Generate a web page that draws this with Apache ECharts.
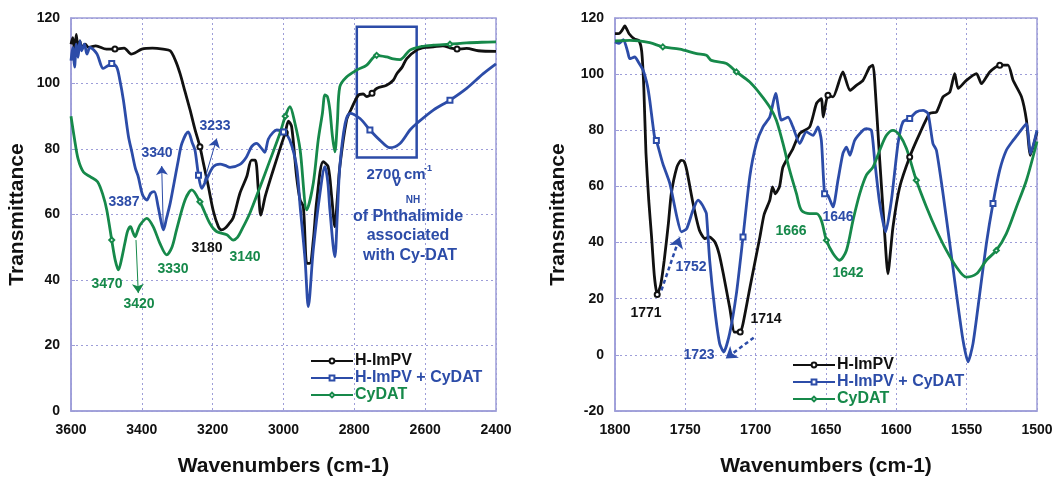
<!DOCTYPE html>
<html>
<head>
<meta charset="utf-8">
<script src="https://cdn.jsdelivr.net/npm/echarts/dist/echarts.min.js"></script>
<style>
html,body{margin:0;padding:0;background:#fff;}
#chart{width:1055px;height:477px;}
</style>
</head>
<body>
<div id="chart"></div>
<script>
// ---------- DATA ----------
const seriesNames = ['H-ImPV', 'H-ImPV + CyDAT', 'CyDAT'];
const leftXTicks = [3600, 3400, 3200, 3000, 2800, 2600, 2400];
const rightXTicks = [1800, 1750, 1700, 1650, 1600, 1550, 1500];

// Left panel (3600-2400 cm-1): [wavenumber, transmittance]
const leftBlack = [[3600,112],[3595,114],[3590,110],[3585,115],[3580,110],[3575,113],[3570,111],[3560,112],[3550,111],[3530,111.5],[3500,110.5],[3476,110.5],[3450,110.8],[3430,109],[3420,109.3],[3400,110.5],[3370,110.8],[3340,110.5],[3320,110],[3305,107],[3292,103],[3278,97.5],[3264,92],[3250,86],[3236,80.7],[3226,75.6],[3212,68.5],[3198,61],[3184,56.3],[3175,55.3],[3165,55.8],[3155,57],[3142,59],[3123,66.5],[3104,71.5],[3090,76.6],[3080,76.6],[3071,67.5],[3064,59.8],[3052,65.4],[3038,70.5],[3019,77],[3005,81.7],[2995,85],[2986,88.5],[2977,86.8],[2963,71.5],[2953,64.4],[2944,62.4],[2934,45.1],[2926,45.1],[2916,52],[2906,64.4],[2888,76.1],[2874,74.6],[2864,65.4],[2855,56.3],[2848,65],[2841,74.6],[2822,88.8],[2810,91.9],[2789,96.4],[2775,96.8],[2765,96],[2750,97],[2737,98.5],[2709,99.5],[2690,101],[2680,103],[2665,105],[2652,107.6],[2624,110.2],[2600,111],[2577,111.2],[2550,111.5],[2530,110.9],[2510,110.5],[2483,110.7],[2450,110],[2400,109.8]];
const leftBlue = [[3600,107],[3595,111],[3590,105],[3585,112],[3580,108],[3575,113],[3570,110],[3562,112],[3555,109],[3546,111],[3527,109.1],[3509,104.6],[3495,105.5],[3485,106.1],[3471,105],[3462,101],[3452,94.9],[3438,84],[3428,79],[3418,74],[3410,71.5],[3398,66],[3386,64.4],[3375,66.5],[3365,67],[3354,62.4],[3346,58],[3339,55.3],[3330,59],[3320,63.4],[3311,68.5],[3297,76.6],[3287,81.7],[3269,85.2],[3258,82],[3250,79.7],[3240,72],[3231,68],[3217,70.8],[3198,74.6],[3179,75.4],[3165,75],[3151,74.4],[3123,75.3],[3105,77.5],[3090,80.7],[3076,81.7],[3062,80.2],[3053,79],[3043,83],[3030,85],[3019,85.8],[3000,85.2],[2982,82.7],[2963,74.6],[2953,62.4],[2939,46.1],[2930,31.9],[2916,49.2],[2897,66.5],[2883,74.6],[2875,70],[2869,61.4],[2855,47.1],[2848,60],[2841,74.6],[2826,87.8],[2812,90.9],[2784,89.3],[2756,85.8],[2728,82.7],[2700,80.4],[2671,81.7],[2643,85.8],[2624,87.8],[2577,91.9],[2530,94.9],[2483,98.5],[2436,103],[2400,106]];
const leftGreen = [[3600,90],[3590,83],[3580,77],[3565,73],[3545,71.5],[3525,70],[3510,66],[3499,61.4],[3485,52.2],[3475,46],[3466,43.1],[3456,47],[3448,51.2],[3440,55],[3432,56.3],[3425,54.5],[3419,53.2],[3412,55],[3405,56.8],[3386,58.8],[3368,56.3],[3349,51.2],[3330,47.7],[3315,50],[3302,55.3],[3278,64.4],[3259,67.5],[3236,63.9],[3208,57.3],[3189,54.8],[3160,53.8],[3142,52.2],[3130,53],[3118,55.3],[3095,60.4],[3066,68.5],[3038,76.6],[3010,84.8],[2995,90],[2982,92.9],[2968,88],[2953,79.7],[2934,61.4],[2916,69.5],[2902,82.7],[2890,91],[2883,96.5],[2876,96],[2869,91.9],[2862,84],[2855,79.1],[2848,88],[2841,99],[2822,102],[2793,104.1],[2765,105.6],[2737,108.6],[2709,108.1],[2690,107.5],[2671,107.3],[2643,110.2],[2610,111.3],[2577,111.7],[2530,112],[2483,112.4],[2440,112.6],[2400,112.7]];

// Right panel (1800-1500 cm-1)
const rightBlack = [[1800,114.4],[1797,114.5],[1795,115.6],[1793,117.2],[1790,114.4],[1786,112.5],[1783,112],[1781,108],[1779.5,95],[1778,72],[1776,55],[1774,42],[1772,28],[1770,21.5],[1767.5,25],[1765,33.7],[1762,47],[1760,57.4],[1756,66.9],[1753,69.3],[1751,69],[1749,65.8],[1744.5,53.9],[1740,44.4],[1736,41.4],[1733,42],[1729,40.2],[1726,36],[1723,28.9],[1718.5,17],[1715,8.1],[1711,8.1],[1709,11.1],[1704,24.2],[1697,42],[1694,50],[1690,55],[1688,59.8],[1686,57.4],[1683,60],[1680.6,66.9],[1673.5,73.5],[1668.7,78.8],[1661.6,81.2],[1656.8,89.5],[1653.3,91.3],[1652,84.7],[1648.6,92.5],[1645,91.9],[1638,100.8],[1633,94.2],[1628.4,96],[1623.7,97.8],[1619,102.5],[1616.6,103.2],[1615.4,97.8],[1611.8,69.3],[1608.3,43.2],[1606,28.9],[1602.4,45.5],[1597.6,59.8],[1590.5,70.5],[1583.4,78.8],[1576.3,86],[1571.5,86.5],[1566.8,91.9],[1562,93.6],[1558.5,100.2],[1556,94.9],[1550.2,97.8],[1543,100.2],[1539.5,96.6],[1533.6,100.8],[1526.5,103.2],[1520.6,103.2],[1517,97.8],[1511,91.9],[1507.5,83.6],[1504.7,71.1],[1500,79.4]];
const rightBlue = [[1800,111.5],[1797,111],[1794,112.3],[1791,108],[1789.5,105.5],[1786,106.1],[1783,104],[1780,101.4],[1777,96],[1775.3,90.7],[1772,78],[1770.6,76.4],[1766,68.1],[1761,61],[1756,49.1],[1752.8,43.8],[1749,45],[1744.6,51.5],[1741,55.1],[1738,53.5],[1736,51.5],[1735,50.3],[1732.7,33.7],[1729,15.9],[1725.6,4],[1722.7,1],[1718.5,7.6],[1713.7,21.8],[1709,42],[1704.2,63.4],[1699.5,75.3],[1694.8,81.2],[1690,84.7],[1685.8,93.1],[1681.7,83.6],[1677,84.7],[1673.5,81.2],[1668.7,75.3],[1664,79.4],[1659.2,78.2],[1655.7,81.2],[1653.3,76.4],[1651,57.4],[1648.6,56.8],[1645,52.7],[1641.5,62.2],[1638,71.7],[1635.5,74],[1633,71.1],[1629.6,76.4],[1623.7,80],[1621.3,80.6],[1617.7,80],[1615.4,69.3],[1611.8,53.9],[1607.6,43.8],[1603.5,55.1],[1598.8,75.3],[1595.3,83],[1590.5,84.2],[1585.8,86.5],[1581,87.1],[1577.5,86],[1574,75.3],[1571.5,72.9],[1566.8,57.4],[1562,39.6],[1557.3,21.8],[1552.6,5.2],[1549,-2.5],[1545.5,4],[1540.7,21.8],[1536,39.6],[1531.3,53.9],[1526.5,65.8],[1521.8,72.9],[1517,76.4],[1512.3,79.4],[1507.6,82.4],[1504.5,71.7],[1500,80]];
const rightGreen = [[1800,111.8],[1789.5,112],[1775.3,111.2],[1766,109.7],[1754,108.9],[1742,107.3],[1735,106.7],[1731.5,104.9],[1720.8,103.8],[1713.7,100.8],[1704.2,97.2],[1697,93.1],[1690,88.3],[1685.3,83.6],[1680.6,75.3],[1675.8,65.7],[1671,57.4],[1667.5,51.5],[1661.6,50.3],[1656.8,50.3],[1653.3,47.9],[1649.7,40.8],[1645,36.1],[1640.3,33.7],[1635.5,37.2],[1630.8,47.9],[1626,57.4],[1621.3,64],[1616.6,66.9],[1611.8,72.9],[1607,78.2],[1602.4,80],[1597.6,78.2],[1592.8,73.5],[1585.8,62.2],[1578.6,52.7],[1571.5,44.4],[1564.4,37.2],[1557.3,31.3],[1550.2,27.7],[1543,28.9],[1536,33.7],[1528.9,37.2],[1521.8,43.2],[1514.6,52.7],[1507.5,62.2],[1500,76]];

// wavenumbers where the open markers sit
const leftMarkerWn = [3480, 3240, 2995, 2750, 2510];
const rightMarkerWn = [1770, 1710, 1650, 1589, 1529];

// annotation labels
const leftPeakLabels = ['3233', '3340', '3387', '3180', '3140', '3330', '3470', '3420'];
const rightPeakLabels = ['1771', '1714', '1752', '1723', '1666', '1646', '1642'];

// ---------- STYLE ----------
const BLACK = '#111111', BLUE = '#2c4ca8', GREEN = '#16894a';
const GRIDC = '#9d9dd8';
const FONT = '"Liberation Sans", Arial, sans-serif';

function withMarkers(pts, markerWns) {
  const marked = new Set();
  markerWns.forEach(w => {
    let best = 0, bd = Infinity;
    pts.forEach((p, i) => { const d = Math.abs(p[0] - w); if (d < bd) { bd = d; best = i; } });
    marked.add(best);
  });
  return pts.map((p, i) => marked.has(i) ? { value: p } : { value: p, symbol: 'none' });
}

function lineSeries(name, pts, markers, color, symbol, axisIdx, extra) {
  return Object.assign({
    name: name, type: 'line', xAxisIndex: axisIdx, yAxisIndex: axisIdx,
    data: withMarkers(pts, markers),
    smooth: 0.3,
    symbol: symbol, symbolSize: 5, showSymbol: true, showAllSymbol: true,
    lineStyle: { color: color, width: 2.8 },
    itemStyle: { color: color, borderWidth: 1 },
    emphasis: { disabled: true },
    z: 3
  }, extra || {});
}

const axisLabelStyle = { color: '#111', fontWeight: 'bold', fontSize: 14, fontFamily: FONT };
const nameStyle = { color: '#111', fontWeight: 'bold', fontSize: 21, fontFamily: FONT };

function xAxis(idx, min, max, interval, ticks) {
  return {
    type: 'value', gridIndex: idx, min: min, max: max, interval: interval, inverse: true,
    name: 'Wavenumbers (cm-1)', nameLocation: 'middle', nameGap: 45, nameTextStyle: nameStyle,
    axisLine: { show: true, onZero: false, lineStyle: { color: GRIDC, width: 1.5 } },
    axisTick: { show: false },
    axisLabel: Object.assign({ margin: 12, formatter: v => (ticks.indexOf(v) >= 0 ? String(v) : '') }, axisLabelStyle),
    splitLine: { show: true, lineStyle: { color: GRIDC, type: [2, 3], width: 1 } }
  };
}
function yAxis(idx, min, max, gap) {
  return {
    type: 'value', gridIndex: idx, min: min, max: max, interval: 20,
    name: 'Transmittance', nameLocation: 'middle', nameGap: gap, nameRotate: 90, nameTextStyle: nameStyle,
    axisLine: { show: true, onZero: false, lineStyle: { color: GRIDC, width: 1.5 } },
    axisTick: { show: true, inside: true, length: 4, lineStyle: { color: GRIDC } },
    axisLabel: Object.assign({ margin: 11, formatter: v => String(v) }, axisLabelStyle),
    splitLine: { show: true, lineStyle: { color: GRIDC, type: [2, 3], width: 1 } }
  };
}

const legendData = [
  { name: seriesNames[0], textStyle: { color: BLACK } },
  { name: seriesNames[1], textStyle: { color: BLUE } },
  { name: seriesNames[2], textStyle: { color: GREEN } }
];
function legend(left, top) {
  return {
    orient: 'vertical', left: left, top: top, itemWidth: 42, itemHeight: 6, itemGap: 1,
    selectedMode: false, padding: 0,
    textStyle: { fontWeight: 'bold', fontSize: 16, fontFamily: FONT, padding: [0, 0, 0, -3] },
    data: legendData
  };
}

function txt(x, y, s, color, size) {
  return { type: 'text', x: x, y: y, silent: true, z: 10,
    style: { text: s, fill: color, font: 'bold ' + (size || 14) + 'px ' + FONT,
      align: 'center', verticalAlign: 'middle', textAlign: 'center', textVerticalAlign: 'middle' } };
}

const graphics = [
  txt(215, 126, leftPeakLabels[0], BLUE),
  txt(157, 153, leftPeakLabels[1], BLUE),
  txt(124, 202, leftPeakLabels[2], BLUE),
  txt(207, 248, leftPeakLabels[3], BLACK),
  txt(245, 257, leftPeakLabels[4], GREEN),
  txt(173, 269, leftPeakLabels[5], GREEN),
  txt(107, 284, leftPeakLabels[6], GREEN),
  txt(139, 304, leftPeakLabels[7], GREEN),
  txt(396, 175, '2700 cm', BLUE, 15),
  txt(428, 169, '-1', BLUE, 9),
  txt(397, 182, 'ν', BLUE, 16),
  txt(413, 200, 'NH', BLUE, 10),
  txt(408, 217, 'of Phthalimide', BLUE, 16),
  txt(408, 236, 'associated', BLUE, 16),
  txt(410, 256, 'with Cy-DAT', BLUE, 16),
  txt(646, 313, rightPeakLabels[0], BLACK),
  txt(766, 319, rightPeakLabels[1], BLACK),
  txt(691, 267, rightPeakLabels[2], BLUE),
  txt(699, 355, rightPeakLabels[3], BLUE),
  txt(791, 231, rightPeakLabels[4], GREEN),
  txt(838, 217, rightPeakLabels[5], BLUE),
  txt(848, 273, rightPeakLabels[6], GREEN)
];

const gridBase = { show: true, borderColor: GRIDC, borderWidth: 1.5, containLabel: false, outerBoundsMode: 'none' };
const option = {
  animation: false,
  backgroundColor: '#fff',
  textStyle: { fontFamily: FONT },
  grid: [
    Object.assign({ left: 71, top: 18, width: 425, height: 393 }, gridBase),
    Object.assign({ left: 615, top: 18, width: 422, height: 393 }, gridBase)
  ],
  xAxis: [xAxis(0, 2400, 3600, 200, leftXTicks), xAxis(1, 1500, 1800, 50, rightXTicks)],
  yAxis: [yAxis(0, 0, 120, 43), yAxis(1, -20, 120, 46)],
  legend: [legend(310, 353), legend(792, 357)],
  graphic: graphics,
  series: [
    lineSeries(seriesNames[0], leftBlack, leftMarkerWn, BLACK, 'emptyCircle', 0),
    lineSeries(seriesNames[1], leftBlue, leftMarkerWn, BLUE, 'emptyRect', 0, {
      markArea: { silent: true, itemStyle: { color: 'rgba(0,0,0,0)', borderColor: BLUE, borderWidth: 2.5 },
        data: [[{ coord: [2793, 117.3] }, { coord: [2624, 77.4] }]] },
      markLine: { silent: true, symbol: ['none', 'arrow'], symbolSize: 9, label: { show: false },
        lineStyle: { color: BLUE, width: 1, type: 'solid' },
        data: [
          [{ coord: [3224.5, 70] }, { coord: [3188.6, 83.2] }],
          [{ coord: [3339.4, 55.9] }, { coord: [3343.9, 74.8] }]
        ] }
    }),
    lineSeries(seriesNames[2], leftGreen, leftMarkerWn, GREEN, 'emptyDiamond', 0, {
      markLine: { silent: true, symbol: ['none', 'arrow'], symbolSize: 9, label: { show: false },
        lineStyle: { color: GREEN, width: 1, type: 'solid' },
        data: [[{ coord: [3416.5, 52.2] }, { coord: [3410, 36] }]] }
    }),
    lineSeries(seriesNames[0], rightBlack, rightMarkerWn, BLACK, 'emptyCircle', 1, { smooth: 0.2 }),
    lineSeries(seriesNames[1], rightBlue, rightMarkerWn, BLUE, 'emptyRect', 1, { smooth: 0.2,
      markLine: { silent: true, symbol: ['none', 'arrow'], symbolSize: 11, label: { show: false },
        lineStyle: { color: BLUE, width: 2.5, type: [4, 3] },
        data: [
          [{ coord: [1767, 23] }, { coord: [1754, 42] }],
          [{ coord: [1701.4, 6.1] }, { coord: [1721.3, -1.3] }]
        ] }
    }),
    lineSeries(seriesNames[2], rightGreen, rightMarkerWn, GREEN, 'emptyDiamond', 1, { smooth: 0.3 })
  ]
};

const chart = echarts.init(document.getElementById('chart'), null, { renderer: 'canvas' });
chart.setOption(option);
</script>
</body>
</html>
